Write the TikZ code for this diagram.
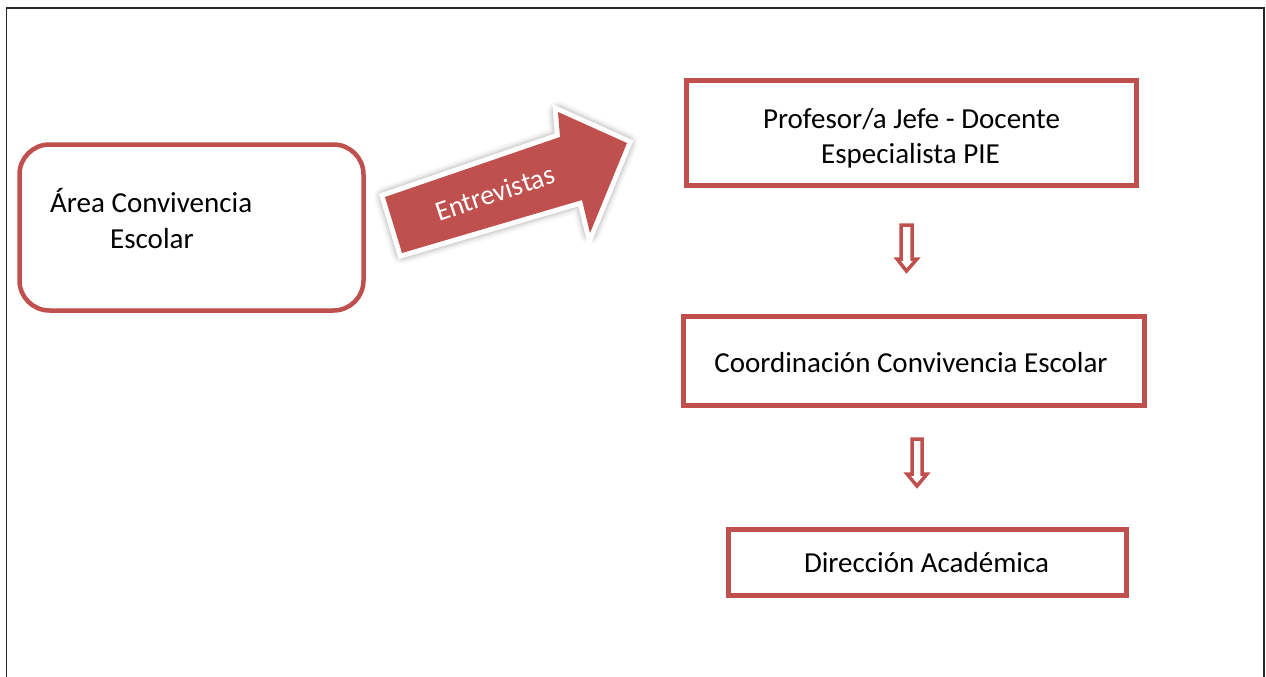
\documentclass[tikz,border=0pt]{standalone}
\usepackage{fontspec}
\setmainfont{Carlito}
\definecolor{acc}{HTML}{C0504D}
\begin{document}
\begin{tikzpicture}[x=1pt,y=-1pt,
  every node/.style={font=\fontsize{29}{35}\selectfont, text=black},
  sqbox/.style={draw=acc, line width=5pt, fill=white, inner sep=0pt},
  rbox/.style={draw=acc, line width=4.5pt, fill=white, rounded corners=30pt, inner sep=0pt, minimum width=344pt, minimum height=166pt},
  hollow/.style={draw=acc, line width=3.5pt, fill=white, line join=miter},
  glow/.style={draw=black, line join=round, fill=black},
  txt/.style={inner sep=0pt}
]
\useasboundingbox (0,0) rectangle (1266,677);
\fill[white] (0,0) rectangle (1266,677);
% frame
\draw[black!85, line width=1.5pt] (6.5,700) -- (6.5,8) -- (1264,8) -- (1264,700);

% left rounded box
\node[rbox] (area) at (191.5,227.5) {};
\node[txt, anchor=base west] (area1) at (50,212) {Área Convivencia};
\node[txt, anchor=base west] (area2) at (110,248) {Escolar};

% big arrow
\coordinate (ga) at (385,197);
\coordinate (gb) at (560,137);
\coordinate (gc) at (558,112);
\coordinate (gd) at (627,143);
\coordinate (ge) at (590,233);
\coordinate (gf) at (582,200);
\coordinate (gg) at (402,253);
\begin{scope}[shift={(2,4)}]
\foreach \w/\o in {22/0.03,18/0.04,15/0.05,12/0.06}{
  \draw[glow, line width=\w pt, opacity=\o] (ga) -- (gb) -- (gc) -- (gd) -- (ge) -- (gf) -- (gg) -- cycle;
}
\end{scope}
\draw[white, fill=white, line width=10pt, line join=miter] (ga) -- (gb) -- (gc) -- (gd) -- (ge) -- (gf) -- (gg) -- cycle;
\fill[acc] (ga) -- (gb) -- (gc) -- (gd) -- (ge) -- (gf) -- (gg) -- cycle;
\node[txt, text=white, rotate=18.5, font=\fontsize{28}{33}\selectfont] (entre) at (495,193) {Entrevistas};

% right boxes
\node[sqbox, minimum width=450pt, minimum height=105pt] (prof) at (911.5,133) {};
\node[txt, anchor=base] (prof1) at (911.5,128) {Profesor/a Jefe - Docente};
\node[txt, anchor=base] (prof2) at (910.5,163) {Especialista PIE};

\node[sqbox, minimum width=461pt, minimum height=89pt] (coord) at (914,361) {};
\node[txt, anchor=base] (coordt) at (911,372) {Coordinación Convivencia Escolar};

\node[sqbox, minimum width=398pt, minimum height=66pt] (dir) at (927.5,562.5) {};
\node[txt, anchor=base] (dirt) at (926.5,572) {Dirección Académica};

% hollow down arrows
\draw[hollow] (901,225) -- (912,225) -- (912,259) -- (917,259) -- (906.5,271) -- (897,259) -- (901,259) -- cycle;
\draw[hollow] (912,439) -- (922,439) -- (922,474) -- (927,474) -- (917,486) -- (907,474) -- (912,474) -- cycle;
\end{tikzpicture}
\end{document}
